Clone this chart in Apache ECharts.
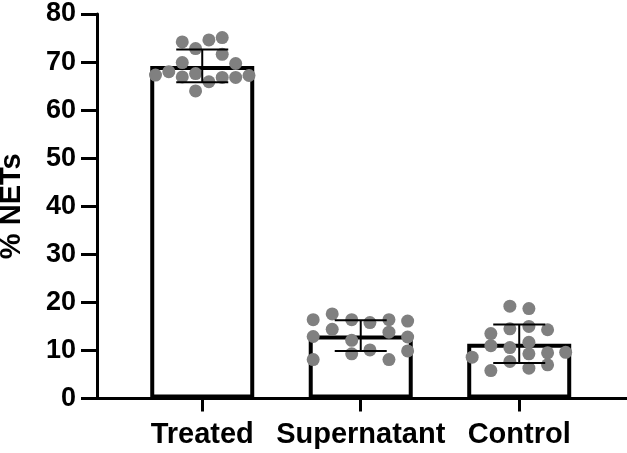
<!DOCTYPE html>
<html>
<head>
<meta charset="utf-8">
<script src="https://cdn.jsdelivr.net/npm/echarts@6/dist/echarts.min.js"></script>
<style>
  html, body { margin: 0; padding: 0; background: #fff; }
  #chart { width: 627px; height: 453px; }
</style>
</head>
<body>
<div id="chart"></div>
<script>
// % NETs per condition: bar = mean, whiskers = SD, grey dots = replicates
const categories = ['Treated', 'Supernatant', 'Control'];
const means = [69.2, 13.1, 11.4];
const sds = [3.4, 3.2, 4.0];

// replicate dots: [horizontal jitter within the bar (category units), value]
const treatedDots = [
  [-0.295, 67.3], [-0.211, 68.0],
  [-0.126, 74.2], [-0.126, 69.9], [-0.126, 66.9],
  [-0.042, 72.8], [-0.042, 67.6], [-0.042, 64.0],
  [0.042, 74.6], [0.042, 65.9],
  [0.126, 75.1], [0.126, 71.6], [0.126, 66.8],
  [0.211, 69.7], [0.211, 66.8],
  [0.295, 67.2]
];
const supernatantDots = [
  [-0.300, 16.4], [-0.300, 12.9], [-0.300, 8.1],
  [-0.180, 17.6], [-0.180, 14.4],
  [-0.057, 16.4], [-0.057, 12.1], [-0.057, 9.3],
  [0.058, 15.8], [0.058, 10.1],
  [0.178, 16.4], [0.178, 13.8], [0.178, 8.1],
  [0.296, 16.1], [0.296, 12.8], [0.296, 9.9]
];
const controlDots = [
  [-0.297, 8.6],
  [-0.179, 13.5], [-0.179, 11.0], [-0.179, 5.8],
  [-0.059, 19.2], [-0.059, 14.5], [-0.059, 10.6], [-0.059, 7.7],
  [0.061, 18.7], [0.061, 15.0], [0.061, 11.7], [0.061, 9.3], [0.061, 6.3],
  [0.179, 14.3], [0.179, 9.5], [0.179, 7.0],
  [0.293, 9.6]
];
const yTicks = [0, 10, 20, 30, 40, 50, 60, 70, 80];

const FONT = '"Liberation Sans", Arial, sans-serif';
const groups = [treatedDots, supernatantDots, controlDots];

const dotData = [];
groups.forEach((g, i) => g.forEach(d => dotData.push([i + d[0], d[1]])));

const chart = echarts.init(document.getElementById('chart'), null, { renderer: 'canvas' });
chart.setOption({
  animation: false,
  backgroundColor: '#fff',
  grid: { left: 97, right: 0, top: 14, bottom: 54.5, containLabel: false, outerBoundsMode: 'none' },
  xAxis: {
    type: 'value',
    min: -0.664,
    max: 2.68,
    splitLine: { show: false },
    axisLine: { show: true, onZero: false, lineStyle: { color: '#000', width: 3 } },
    axisTick: { show: true, customValues: [0, 1, 2], length: 13, lineStyle: { color: '#000', width: 3 } },
    axisLabel: {
      customValues: [0, 1, 2],
      formatter: v => categories[Math.round(v)],
      margin: 22,
      color: '#000',
      fontFamily: FONT,
      fontWeight: 'bold',
      fontSize: 29
    }
  },
  yAxis: {
    type: 'value',
    min: yTicks[0],
    max: yTicks[yTicks.length - 1],
    interval: 10,
    name: '% NETs',
    nameLocation: 'middle',
    nameRotate: 90,
    nameGap: 71,
    nameTextStyle: { color: '#000', fontFamily: FONT, fontWeight: 'bold', fontSize: 29 },
    splitLine: { show: false },
    axisLine: { show: true, onZero: false, lineStyle: { color: '#000', width: 3 } },
    axisTick: { show: true, length: 16, lineStyle: { color: '#000', width: 3 } },
    axisLabel: { margin: 21, color: '#000', fontFamily: FONT, fontWeight: 'bold', fontSize: 27 }
  },
  series: [
    {
      type: 'bar',
      data: means.map((m, i) => [i, m]),
      barWidth: 104,
      itemStyle: { color: '#fff', borderColor: '#000', borderWidth: 4 },
      z: 2
    },
    {
      type: 'scatter',
      data: dotData,
      symbol: 'circle',
      symbolSize: 13,
      itemStyle: { color: '#808080', opacity: 1 },
      z: 3
    },
    {
      type: 'custom',
      data: means.map((m, i) => [i, m, sds[i]]),
      z: 4,
      renderItem: (params, api) => {
        const x = api.value(0), m = api.value(1), s = api.value(2);
        const hi = api.coord([x, m + s]);
        const lo = api.coord([x, m - s]);
        const cap = 26;
        const style = { stroke: '#000', lineWidth: 2 };
        return {
          type: 'group',
          children: [
            { type: 'line', shape: { x1: hi[0], y1: hi[1], x2: lo[0], y2: lo[1] }, style },
            { type: 'line', shape: { x1: hi[0] - cap, y1: hi[1], x2: hi[0] + cap, y2: hi[1] }, style },
            { type: 'line', shape: { x1: lo[0] - cap, y1: lo[1], x2: lo[0] + cap, y2: lo[1] }, style }
          ]
        };
      }
    }
  ]
});
</script>
</body>
</html>
